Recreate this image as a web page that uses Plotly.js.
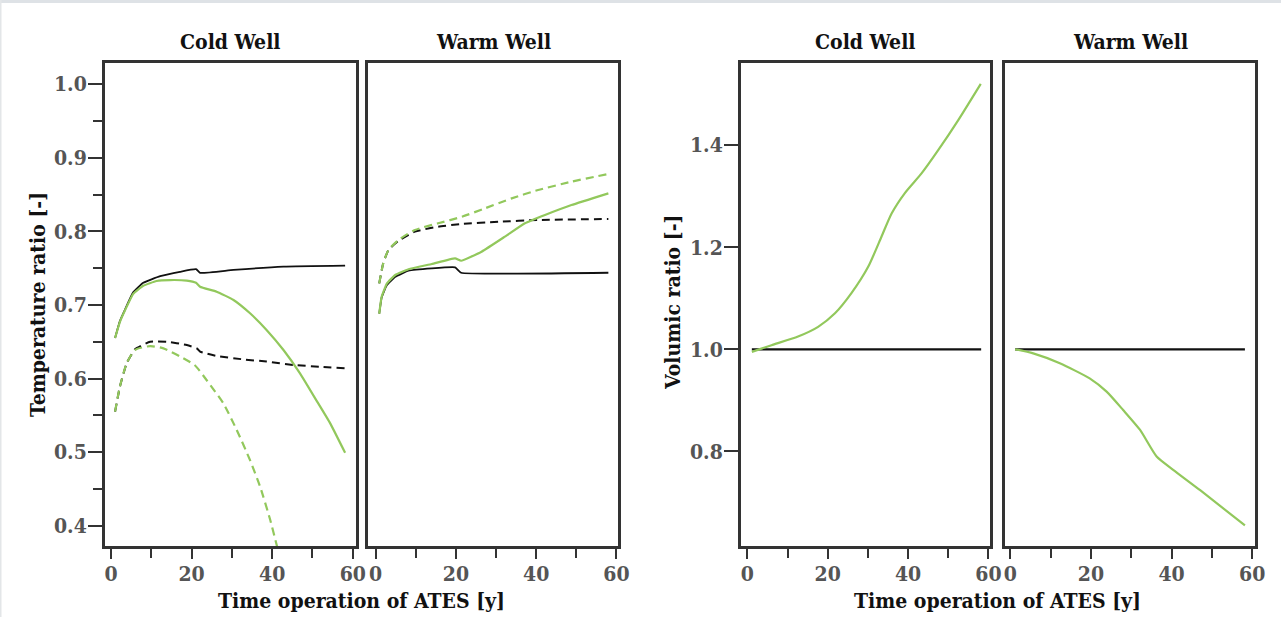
<!DOCTYPE html>
<html>
<head>
<meta charset="utf-8">
<script src="https://cdn.plot.ly/plotly-3.0.1.min.js"></script>
<style>
html,body{margin:0;padding:0;background:#fff;}
#chart{width:1281px;height:617px;}
</style>
</head>
<body>
<div id="chart"></div>
<script>
// ---- Data ----
const panelTitles = ["Cold Well", "Warm Well", "Cold Well", "Warm Well"];
const xTitle = "Time operation of ATES [y]";
const yTitleTemp = "Temperature ratio [-]";
const yTitleVol = "Volumic ratio [-]";

// Temperature ratio, cold well
const tcBlackSolidX = [1, 2.2, 3.5, 5.5, 8, 12.2, 17.1, 21.1, 22.1, 30.4, 42.8, 58.1];
const tcBlackSolidY = [0.655, 0.678, 0.694, 0.717, 0.730, 0.739, 0.745, 0.7485, 0.7435, 0.7475, 0.752, 0.7533];
const tcGreenSolidX = [1, 2.2, 3.5, 5.5, 8, 11.3, 14.6, 18.8, 21.1, 22.1, 26.2, 30.4, 34.5, 38.6, 42.8, 46.9, 51, 54.4, 58.1];
const tcGreenSolidY = [0.655, 0.677, 0.693, 0.715, 0.726, 0.7325, 0.7338, 0.733, 0.730, 0.7247, 0.718, 0.7067, 0.6886, 0.666, 0.6387, 0.607, 0.570, 0.539, 0.499];
const tcBlackDashX = [1, 2.2, 3.9, 6, 9.7, 13.8, 18.8, 21.3, 22.1, 26.2, 32.8, 38.6, 45.3, 51.9, 58.1];
const tcBlackDashY = [0.555, 0.589, 0.621, 0.640, 0.650, 0.650, 0.6455, 0.641, 0.6365, 0.6306, 0.626, 0.623, 0.6183, 0.616, 0.6138];
const tcGreenDashX = [1, 2.2, 3.9, 6, 9.7, 13, 17.1, 20.8, 23.7, 27.9, 31.2, 34.5, 37, 39.5, 41, 41.5];
const tcGreenDashY = [0.555, 0.589, 0.621, 0.639, 0.644, 0.641, 0.630, 0.618, 0.598, 0.566, 0.530, 0.489, 0.453, 0.408, 0.376, 0.366];

// Temperature ratio, warm well
const twGreenSolidX = [0.9, 1.5, 2.8, 4.9, 8.2, 14, 19.8, 21.3, 26.4, 32.2, 37.2, 42.2, 48.8, 58];
const twGreenSolidY = [0.688, 0.711, 0.729, 0.7406, 0.7484, 0.7556, 0.7633, 0.760, 0.7723, 0.7927, 0.8109, 0.8222, 0.8357, 0.8516];
const twBlackSolidX = [0.9, 1.5, 2.8, 4.9, 8.2, 14, 19.8, 21.3, 58];
const twBlackSolidY = [0.688, 0.710, 0.727, 0.7383, 0.7465, 0.7497, 0.751, 0.7437, 0.7437];
const twGreenDashX = [0.9, 1.9, 3.2, 5.7, 9.8, 15.6, 21.5, 27.3, 33.9, 40.5, 48.8, 58];
const twGreenDashY = [0.7293, 0.7565, 0.7746, 0.7882, 0.8018, 0.8109, 0.8198, 0.8313, 0.8448, 0.8561, 0.8674, 0.8779];
const twBlackDashX = [0.9, 1.9, 3.2, 5.7, 9.8, 15.6, 21.5, 30.6, 40.5, 58];
const twBlackDashY = [0.7293, 0.7565, 0.7746, 0.787, 0.7995, 0.8063, 0.81, 0.813, 0.8154, 0.8167];

// Volumic ratio, cold well
const vcGreenX = [1.1, 6, 12.6, 17.6, 21.8, 25.9, 30.1, 33.4, 35.9, 39.2, 43.4, 47.5, 52.5, 58.1];
const vcGreenY = [0.995, 1.008, 1.025, 1.044, 1.0705, 1.110, 1.162, 1.221, 1.266, 1.306, 1.345, 1.390, 1.449, 1.520];
const vcBlackX = [1.1, 58.2];
const vcBlackY = [1.0, 1.0];

// Volumic ratio, warm well
const vwGreenX = [1.2, 5.7, 12.3, 19.7, 23.9, 28, 32.2, 36.3, 40.4, 47.1, 58.2];
const vwGreenY = [1.0, 0.992, 0.9726, 0.943, 0.917, 0.881, 0.842, 0.790, 0.764, 0.724, 0.655];
const vwBlackX = [1.2, 58.2];
const vwBlackY = [1.0, 1.0];

// ---- Styling ----
const GREEN = "#92c85c";
const BLACK = "#111111";
const FONT = "DejaVu Serif Condensed, DejaVu Serif, serif";
const W = 1281, H = 617;

function line(x, y, xa, ya, color, dashed, width, smooth) {
  return {
    x: x, y: y, xaxis: xa, yaxis: ya, type: "scatter", mode: "lines",
    line: {color: color, width: width || 2, dash: dashed ? "8px,5px" : "solid",
           shape: "spline", smoothing: smooth === undefined ? 0.5 : smooth},
    hoverinfo: "skip", showlegend: false
  };
}

const traces = [
  line(tcBlackDashX, tcBlackDashY, "x", "y", BLACK, true, 2, 0.4),
  line(tcGreenDashX, tcGreenDashY, "x", "y", GREEN, true, 2.2, 0.6),
  line(tcBlackSolidX, tcBlackSolidY, "x", "y", BLACK, false, 1.8, 0.4),
  line(tcGreenSolidX, tcGreenSolidY, "x", "y", GREEN, false, 2.2, 0.4),

  line(twBlackDashX, twBlackDashY, "x2", "y2", BLACK, true, 2, 0.5),
  line(twGreenDashX, twGreenDashY, "x2", "y2", GREEN, true, 2.2, 0.6),
  line(twBlackSolidX, twBlackSolidY, "x2", "y2", BLACK, false, 1.8, 0.3),
  line(twGreenSolidX, twGreenSolidY, "x2", "y2", GREEN, false, 2.2, 0.4),

  line(vcBlackX, vcBlackY, "x3", "y3", BLACK, false, 2.2, 0),
  line(vcGreenX, vcGreenY, "x3", "y3", GREEN, false, 2.2, 0.6),

  line(vwBlackX, vwBlackY, "x4", "y4", BLACK, false, 2.2, 0),
  line(vwGreenX, vwGreenY, "x4", "y4", GREEN, false, 2.2, 0.6)
];

const tickFont = {family: FONT, size: 21, color: "#555555", weight: "bold"};
const yDom = [(H - 546) / H, (H - 63.3) / H];

function xAxis(px0, px1, range, anchor) {
  return {
    domain: [px0 / W, px1 / W], range: range, anchor: anchor,
    showline: true, mirror: true, linecolor: "#333333", linewidth: 3,
    showgrid: false, zeroline: false,
    ticks: "outside", ticklen: 10, tickwidth: 2, tickcolor: "#333333",
    tick0: 0, dtick: 20, tickfont: tickFont, ticklabelstandoff: -3,
    minor: {ticks: "outside", dtick: 10, tick0: 0, ticklen: 9, tickwidth: 2, tickcolor: "#333333", showgrid: false},
    fixedrange: true
  };
}
function yAxis(range, anchor, show, dtick, minorD) {
  const a = {
    domain: yDom, range: range, anchor: anchor,
    showline: true, mirror: true, linecolor: "#333333", linewidth: 3,
    showgrid: false, zeroline: false, fixedrange: true
  };
  if (show) {
    Object.assign(a, {
      ticks: "outside", ticklen: 14, tickwidth: 2, tickcolor: "#333333",
      tick0: 0, dtick: dtick, tickformat: ".1f", tickfont: tickFont, ticklabelstandoff: -3
    });
    if (minorD) a.minor = {ticks: "outside", dtick: minorD, tick0: 0, ticklen: 9, tickwidth: 2, tickcolor: "#333333", showgrid: false};
  } else {
    a.ticks = ""; a.showticklabels = false;
  }
  return a;
}

const titleFont = {family: FONT, size: 21, color: "#111111", weight: "bold"};
function ann(text, px, py, angle) {
  return {text: text, x: px / W, y: (H - py) / H, xref: "paper", yref: "paper",
          xanchor: "center", yanchor: "middle", showarrow: false, font: titleFont, textangle: angle || 0};
}

const layout = {
  width: W, height: H,
  margin: {l: 0, r: 0, t: 0, b: 0},
  paper_bgcolor: "#ffffff", plot_bgcolor: "#ffffff",
  showlegend: false,
  xaxis: xAxis(105, 356, [-1.5, 60.8], "y"),
  xaxis2: xAxis(368, 618, [-1.9, 60.4], "y2"),
  xaxis3: xAxis(741, 990, [-1.6, 60.4], "y3"),
  xaxis4: xAxis(1005, 1255, [-1.3, 60.7], "y4"),
  yaxis: yAxis([0.3724, 1.0283], "x", true, 0.1, 0.05),
  yaxis2: yAxis([0.3724, 1.0283], "x2", false),
  yaxis3: yAxis([0.6147, 1.5602], "x3", true, 0.2, null),
  yaxis4: yAxis([0.6147, 1.5602], "x4", false),
  annotations: [
    ann(panelTitles[0], 230.5, 42),
    ann(panelTitles[1], 493, 42),
    ann(panelTitles[2], 865.5, 42),
    ann(panelTitles[3], 1130, 42),
    ann(xTitle, 361, 600),
    ann(xTitle, 997, 600),
    ann(yTitleTemp, 37, 305, -90),
    ann(yTitleVol, 672, 302, -90)
  ],
  shapes: [
    {type: "rect", xref: "paper", yref: "paper", x0: 0, x1: 1, y0: 1 - 3 / H, y1: 1,
     fillcolor: "#dee2e6", line: {width: 0}, layer: "below"},
    {type: "rect", xref: "paper", yref: "paper", x0: 0, x1: 1.5 / W, y0: 0, y1: 1,
     fillcolor: "#e3e6e8", line: {width: 0}, layer: "below"}
  ]
};

Plotly.newPlot("chart", traces, layout, {displayModeBar: false, staticPlot: true});
</script>
</body>
</html>
